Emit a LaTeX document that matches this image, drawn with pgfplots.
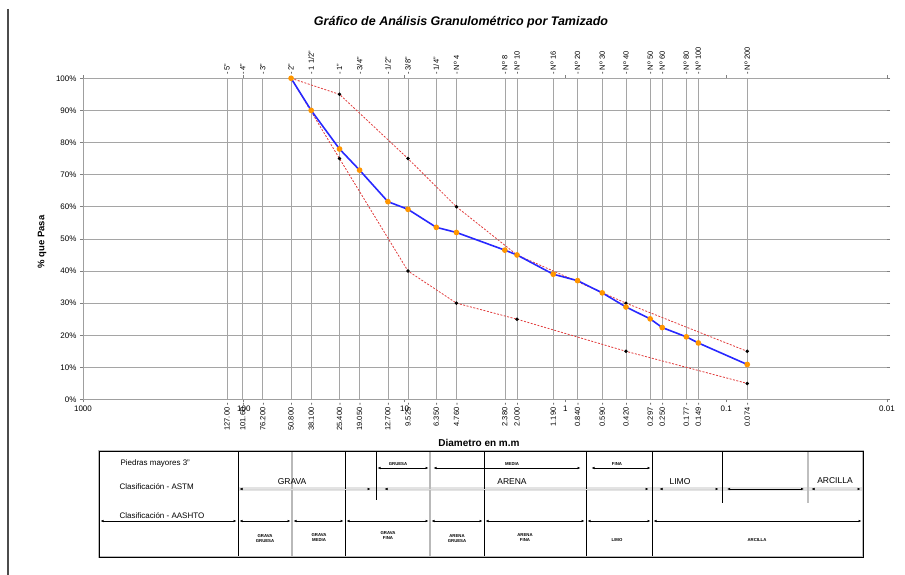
\documentclass[border=0pt]{standalone}
\usepackage{pgfplots}
\pgfplotsset{compat=1.18}
\usepackage{fontspec}
\setmainfont{Liberation Sans}
\usetikzlibrary{arrows.meta}
\definecolor{gridc}{RGB}{165,165,165}
\definecolor{blueL}{RGB}{40,40,255}
\definecolor{orangeM}{RGB}{255,150,0}
\definecolor{redL}{RGB}{225,60,60}
\begin{document}
\begin{tikzpicture}
\useasboundingbox (0pt,0pt) rectangle (905pt,575pt);
\begin{axis}[
  at={(83pt,175.5pt)}, anchor=south west,
  scale only axis, width=804pt, height=321.2pt,
  xmode=log, x dir=reverse, xmin=0.01, xmax=1000,
  ymin=0, ymax=100,
  axis line style={draw=none},
  xtick={1000,100,10,1,0.1,0.01},
  xticklabels={1000,100,10,1,0.1,0.01},
  ytick={0,10,...,100},
  yticklabels={0\%,10\%,20\%,30\%,40\%,50\%,60\%,70\%,80\%,90\%,100\%},
  ymajorgrids,
  grid style={gridc, line width=0.6pt},
  tick align=outside, major tick length=3pt,
  tick style={gray, line width=0.6pt},
  tick label style={font=\fontsize{8}{9}\selectfont},
  extra x ticks={127,101.6,76.2,50.8,38.1,25.4,19.05,12.7,9.525,6.35,4.76,2.38,2.0,1.19,0.84,0.59,0.42,0.297,0.25,0.177,0.149,0.074},
  extra x tick labels={127.00 -,101.60 -,76.200 -,50.800 -,38.100 -,25.400 -,19.050 -,12.700 -,9.525 -,6.350 -,4.760 -,2.380 -,2.000 -,1.190 -,0.840 -,0.590 -,0.420 -,0.297 -,0.250 -,0.177 -,0.149 -,0.074 -},
  extra x tick style={grid=major, major tick length=0pt, tick label style={rotate=90, anchor=east, font=\fontsize{7.5}{8}\selectfont}},
  clip=false,
]
\draw[gray!75, line width=1pt] (rel axis cs:0,0) -- (rel axis cs:1,0);
\draw[gray!75, line width=0.7pt] (rel axis cs:0,0) -- (rel axis cs:0,1);
% upper limit
\addplot[redL, line width=0.8pt, dash pattern=on 2pt off 1.5pt, mark=*, mark size=1.3pt, mark options={solid, fill=black, draw=black}]
coordinates {(50.8,100) (25.4,95) (9.525,75) (4.76,60) (2.0,45) (0.42,30) (0.074,15)};
% lower limit
\addplot[redL, line width=0.8pt, dash pattern=on 2pt off 1.5pt, mark=*, mark size=1.3pt, mark options={solid, fill=black, draw=black}]
coordinates {(50.8,100) (25.4,75) (9.525,40) (4.76,30) (2.0,25) (0.42,15) (0.074,5)};
% curve
\addplot[blueL, line width=1.6pt, mark=*, mark size=2pt, mark options={fill=orangeM, draw=orangeM}]
coordinates {(50.8,100) (38.1,90) (25.4,78) (19.05,71.4) (12.7,61.6) (9.525,59.2) (6.35,53.6) (4.76,52) (2.38,46.5) (2.0,45) (1.19,39) (0.84,37) (0.59,33.2) (0.42,28.8) (0.297,25.1) (0.25,22.4) (0.177,19.5) (0.149,17.6) (0.074,10.9)};
\end{axis}
\begin{axis}[
  at={(83pt,175.5pt)}, anchor=south west,
  scale only axis, width=804pt, height=321.2pt,
  xmode=log, x dir=reverse, xmin=0.01, xmax=1000,
  ymin=0, ymax=100,
  axis line style={draw=none}, ytick=\empty,
  xticklabel pos=upper,
  xtick={127,101.6,76.2,50.8,38.1,25.4,19.05,12.7,9.525,6.35,4.76,2.38,2.0,1.19,0.84,0.59,0.42,0.297,0.25,0.177,0.149,0.074},
  xticklabels={- 5",- 4",- 3",- 2",- 1 1/2",- 1",- 3/4",- 1/2",- 3/8",- 1/4",- Nº 4,- Nº 8,- Nº 10,- Nº 16,- Nº 20,- Nº 30,- Nº 40,- Nº 50,- Nº 60,- Nº 80,- Nº 100,- Nº 200},
  major tick length=0pt,
  xticklabel style={rotate=90, anchor=west, font=\fontsize{7.5}{8}\selectfont},
]
\end{axis}
% titles
\node[font=\bfseries\itshape\fontsize{12.5}{14}\selectfont] at (461pt,553pt) {Gráfico de Análisis Granulométrico por Tamizado};
\node[rotate=90, font=\bfseries\fontsize{9.5}{11}\selectfont] at (42pt,333pt) {\% que Pasa};
\node[font=\bfseries\fontsize{10}{11}\selectfont] at (479pt,132pt) {Diametro en m.m};
\draw[gray!60!black, line width=1.5pt] (8pt,566pt) -- (8pt,0pt);
% classification table
\begin{scope}[x=1pt,y=-1pt,yshift=575pt]
\fill[gray!22] (238,487.3) rectangle (863,490.7);
\foreach \xx in {238,345,484,586,652} \draw[black, line width=0.8pt] (\xx,451) -- (\xx,557);
\foreach \xx in {292,430} \draw[gray!55, line width=1.8pt] (\xx,451) -- (\xx,557);
\draw[black, line width=0.8pt] (376,452) -- (376,500);
\draw[black, line width=0.8pt] (722,452) -- (722,503);
\draw[gray!50, line width=1.5pt] (808,452) -- (808,503);
\draw[gray!55, line width=2.2pt] (99,451) rectangle (863,557);
\draw[black, line width=0.7pt] (99,451) rectangle (863,557);
\begin{scope}[>={Latex[length=3pt,width=2.6pt]}]
\foreach \a/\b in {99/238,238/292,292/345,345/430,430/484,484/586,586/652,652/863}
  \draw[<->, line width=0.6pt] (\a+1.5,521) -- (\b-1.5,521);
\foreach \a/\b in {376/430,432/582,590/652}
  \draw[<->, line width=0.6pt] (\a+1.5,468) -- (\b-1.5,468);
\foreach \a/\b in {238/372,383/650,658/720,810/862}
  \draw[<->, draw=gray!30, line width=0.5pt, >={Latex[length=3pt,width=2.6pt,color=black]}] (\a+1.5,489) -- (\b-1.5,489);
\draw[<->, line width=0.6pt] (727,489) -- (804,489);
\end{scope}
\begin{scope}[font=\fontsize{8}{9}\selectfont]
\node[anchor=west] at (117,463) {Piedras mayores 3"};
\node[anchor=west] at (116,487) {Clasificación - ASTM};
\node[anchor=west] at (116,516) {Clasificación - AASHTO};
\end{scope}
\begin{scope}[font=\fontsize{8.5}{9}\selectfont]
\node at (292,482) {GRAVA};
\node at (512,482) {ARENA};
\node at (680,482) {LIMO};
\node at (835,481) {ARCILLA};
\end{scope}
\begin{scope}[font=\bfseries\fontsize{4.3}{5}\selectfont]
\node at (398,464) {GRUESA};
\node at (512,464) {MEDIA};
\node at (617,464) {FINA};
\node[align=center] at (265,539) {GRAVA\\GRUESA};
\node[align=center] at (319,538) {GRAVA\\MEDIA};
\node[align=center] at (388,536) {GRAVA\\FINA};
\node[align=center] at (457,539) {ARENA\\GRUESA};
\node[align=center] at (525,538) {ARENA\\FINA};
\node at (617,540) {LIMO};
\node at (757,540) {ARCILLA};
\end{scope}
\end{scope}
\end{tikzpicture}
\end{document}
